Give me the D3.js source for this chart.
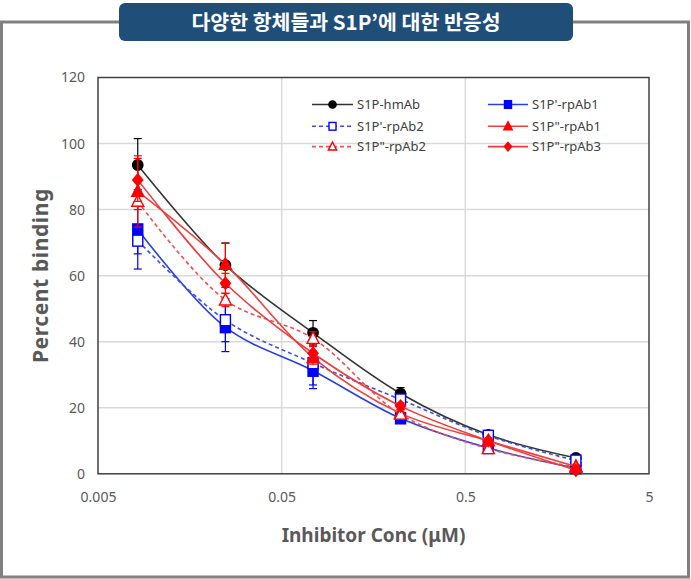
<!DOCTYPE html>
<html><head><meta charset="utf-8">
<script src="https://cdn.jsdelivr.net/npm/d3@7"></script>
<style>html,body{margin:0;padding:0;background:#fff;}svg{display:block;}</style>
</head><body>
<svg id="c" width="691" height="579"></svg>
<script>
const titleText = "다양한 항체들과 S1P’에 대한 반응성";
const xTitle = "Inhibitor Conc (μM)";
const yTitle = "Percent binding";
const conc = [0.00823, 0.0247, 0.0741, 0.222, 0.667, 2.0];
const xTicks = [0.005, 0.05, 0.5, 5];
const xTickLabels = ["0.005", "0.05", "0.5", "5"];
const yTicks = [0, 20, 40, 60, 80, 100, 120];
const seriesNames = ["S1P-hmAb", "S1P'-rpAb1", "S1P'-rpAb2", "S1P\"-rpAb1", "S1P\"-rpAb2", "S1P\"-rpAb3"];
const hmAb      = [93.5, 63.2, 42.7, 24.3, 11.8, 4.8];
const hmAbErr   = [8.0, 6.7, 3.7, 1.8, 0.8, 0.6];
const p_rpAb1   = [74.0, 44.4, 31.2, 16.8, 7.8, 1.7];
const p_rpAb1E  = [12.0, 7.4, 5.4, 1.0, 0.6, 0.5];
const p_rpAb2   = [70.6, 46.5, 33.5, 22.5, 11.5, 4.0];
const p_rpAb2E  = [4.0, 6.5, 6.6, 1.2, 0.8, 0.6];
const pp_rpAb1  = [85.5, 63.4, 35.2, 18.3, 10.0, 2.2];
const pp_rpAb1E = [10.8, 6.4, 2.0, 1.2, 0.8, 0.5];
const pp_rpAb2  = [82.5, 52.6, 41.0, 18.0, 7.6, 2.0];
const pp_rpAb2E = [2.5, 2.0, 2.0, 1.0, 0.6, 0.5];
const pp_rpAb3  = [89.0, 57.7, 36.5, 20.5, 10.0, 1.1];
const pp_rpAb3E = [6.5, 3.0, 2.0, 1.0, 0.6, 0.5];

const valueSets = [hmAb, p_rpAb1, p_rpAb2, pp_rpAb1, pp_rpAb2, pp_rpAb3];
const errSets = [hmAbErr, p_rpAb1E, p_rpAb2E, pp_rpAb1E, pp_rpAb2E, pp_rpAb3E];
const styles = [
  {line:"#333333", mark:"#000000", shape:"circle", fill:true, dash:null},
  {line:"#2a3fe0", mark:"#0000ff", shape:"square", fill:true, dash:null},
  {line:"#3b4fe6", mark:"#0000ff", shape:"square", fill:false, dash:"4,3"},
  {line:"#f04040", mark:"#ff0000", shape:"triangle", fill:true, dash:null},
  {line:"#f05050", mark:"#ff0000", shape:"triangle", fill:false, dash:"4,3"},
  {line:"#f03a3a", mark:"#ff0000", shape:"diamond", fill:true, dash:null}
];

const svg = d3.select("#c");
const font = "'Noto Sans','Noto Sans CJK KR',sans-serif";
const L = 98, R = 649, T = 77.5, B = 473.8;
const x = d3.scaleLog().domain([0.005, 5]).range([L, R]);
const y = d3.scaleLinear().domain([0, 120]).range([B, T]);

// outer frame
svg.append("rect").attr("x", 1.5).attr("y", 22).attr("width", 687).attr("height", 555)
  .attr("fill", "#fff").attr("stroke", "#808080").attr("stroke-width", 3);

// title box
svg.append("rect").attr("x", 119).attr("y", 3).attr("width", 454).attr("height", 38).attr("rx", 6)
  .attr("fill", "#1f4e79");
svg.append("text").attr("x", 346).attr("y", 29.5).attr("text-anchor", "middle")
  .attr("fill", "#fff").attr("font-family", "'Noto Sans CJK KR',sans-serif").attr("font-weight", "bold")
  .attr("font-size", 20.5).text(titleText);

// gridlines
const g = svg.append("g");
g.selectAll(".hg").data(yTicks.filter(d => d > 0 && d < 120)).join("line")
  .attr("x1", L).attr("x2", R).attr("y1", d => y(d)).attr("y2", d => y(d))
  .attr("stroke", "#d9d9d9").attr("stroke-width", 1.5);
g.selectAll(".vg").data(xTicks.slice(1, -1)).join("line")
  .attr("y1", T).attr("y2", B).attr("x1", d => x(d)).attr("x2", d => x(d))
  .attr("stroke", "#d9d9d9").attr("stroke-width", 1.5);

// axes via d3
const yAxis = d3.axisLeft(y).tickValues(yTicks).tickSize(0).tickPadding(0);
const ya = svg.append("g").attr("transform", `translate(85,0)`).call(yAxis);
ya.select(".domain").remove();
ya.selectAll("text").attr("font-family", font).attr("font-size", 14).attr("fill", "#595959");

const xAxis = d3.axisBottom(x).tickValues(xTicks).tickFormat((d, i) => xTickLabels[i]).tickSize(0).tickPadding(0);
const xa = svg.append("g").attr("transform", `translate(0,${B + 18})`).call(xAxis);
xa.select(".domain").remove();
xa.selectAll("text").attr("font-family", font).attr("font-size", 14).attr("fill", "#595959");

// plot border
svg.append("rect").attr("x", L).attr("y", T).attr("width", R - L).attr("height", B - T)
  .attr("fill", "none").attr("stroke", "#404040").attr("stroke-width", 1.5);

// axis titles
svg.append("text").attr("x", (L + R) / 2).attr("y", 542).attr("text-anchor", "middle")
  .attr("font-family", font).attr("font-weight", "bold").attr("font-size", 19).attr("fill", "#595959").text(xTitle);
svg.append("text").attr("transform", `translate(48,${(T + B) / 2}) rotate(-90)`).attr("text-anchor", "middle")
  .attr("font-family", font).attr("font-weight", "bold").attr("font-size", 21).attr("fill", "#595959")
  .attr("letter-spacing", 0.6).text(yTitle);

function marker(sel, st, cx, cy, s) {
  const fill = st.fill ? st.mark : "#fff";
  const sw = 1.4;
  if (st.shape === "circle") {
    sel.append("circle").attr("cx", cx).attr("cy", cy).attr("r", s * 0.52).attr("fill", fill).attr("stroke", st.mark).attr("stroke-width", sw);
  } else if (st.shape === "square") {
    sel.append("rect").attr("x", cx - s / 2).attr("y", cy - s * 0.55).attr("width", s).attr("height", s * 1.1)
      .attr("fill", fill).attr("stroke", st.mark).attr("stroke-width", sw);
  } else if (st.shape === "triangle") {
    const h = s * 1.1;
    sel.append("path").attr("d", `M${cx},${cy - h * 0.6}L${cx + s * 0.6},${cy + h * 0.45}L${cx - s * 0.6},${cy + h * 0.45}Z`)
      .attr("fill", fill).attr("stroke", st.mark).attr("stroke-width", sw);
  } else if (st.shape === "diamond") {
    sel.append("path").attr("d", `M${cx},${cy - s * 0.6}L${cx + s * 0.5},${cy}L${cx},${cy + s * 0.6}L${cx - s * 0.5},${cy}Z`)
      .attr("fill", fill).attr("stroke", st.mark).attr("stroke-width", sw);
  }
}

const lineGen = d3.line().x(d => x(d[0])).y(d => y(d[1])).curve(d3.curveCatmullRom.alpha(0.5));
const plot = svg.append("g");
valueSets.forEach((vals, si) => {
  const st = styles[si];
  const pts = conc.map((c, i) => [c, vals[i]]);
  const gs = plot.append("g");
  gs.append("path").attr("d", lineGen(pts)).attr("fill", "none").attr("stroke", st.line)
    .attr("stroke-width", 1.6).attr("stroke-dasharray", st.dash);
  const errs = errSets[si];
  pts.forEach((p, i) => {
    const cx = x(p[0]);
    const y1 = y(p[1] + errs[i]), y2 = y(p[1] - errs[i]);
    gs.append("line").attr("x1", cx).attr("x2", cx).attr("y1", y1).attr("y2", y2).attr("stroke", st.mark).attr("stroke-width", 1.2);
    [y1, y2].forEach(yy => gs.append("line").attr("x1", cx - 4).attr("x2", cx + 4).attr("y1", yy).attr("y2", yy).attr("stroke", st.mark).attr("stroke-width", 1.2));
  });
  pts.forEach(p => marker(gs, st, x(p[0]), y(p[1]), 10));
});

// legend
const legRows = [104.5, 126.3, 146.6];
const legCols = [{x1: 312, x2: 353, t: 357}, {x1: 488, x2: 528, t: 532}];
seriesNames.forEach((name, i) => {
  const col = legCols[i % 2], row = legRows[Math.floor(i / 2)];
  const st = styles[i];
  const lg = svg.append("g");
  lg.append("line").attr("x1", col.x1).attr("x2", col.x2).attr("y1", row).attr("y2", row)
    .attr("stroke", st.line).attr("stroke-width", 1.6).attr("stroke-dasharray", st.dash);
  marker(lg, st, (col.x1 + col.x2) / 2, row, 7);
  lg.append("text").attr("x", col.t).attr("y", row + 4.5).attr("font-family", font).attr("font-size", 13)
    .attr("fill", "#404040").text(name);
});
</script>
</body></html>
